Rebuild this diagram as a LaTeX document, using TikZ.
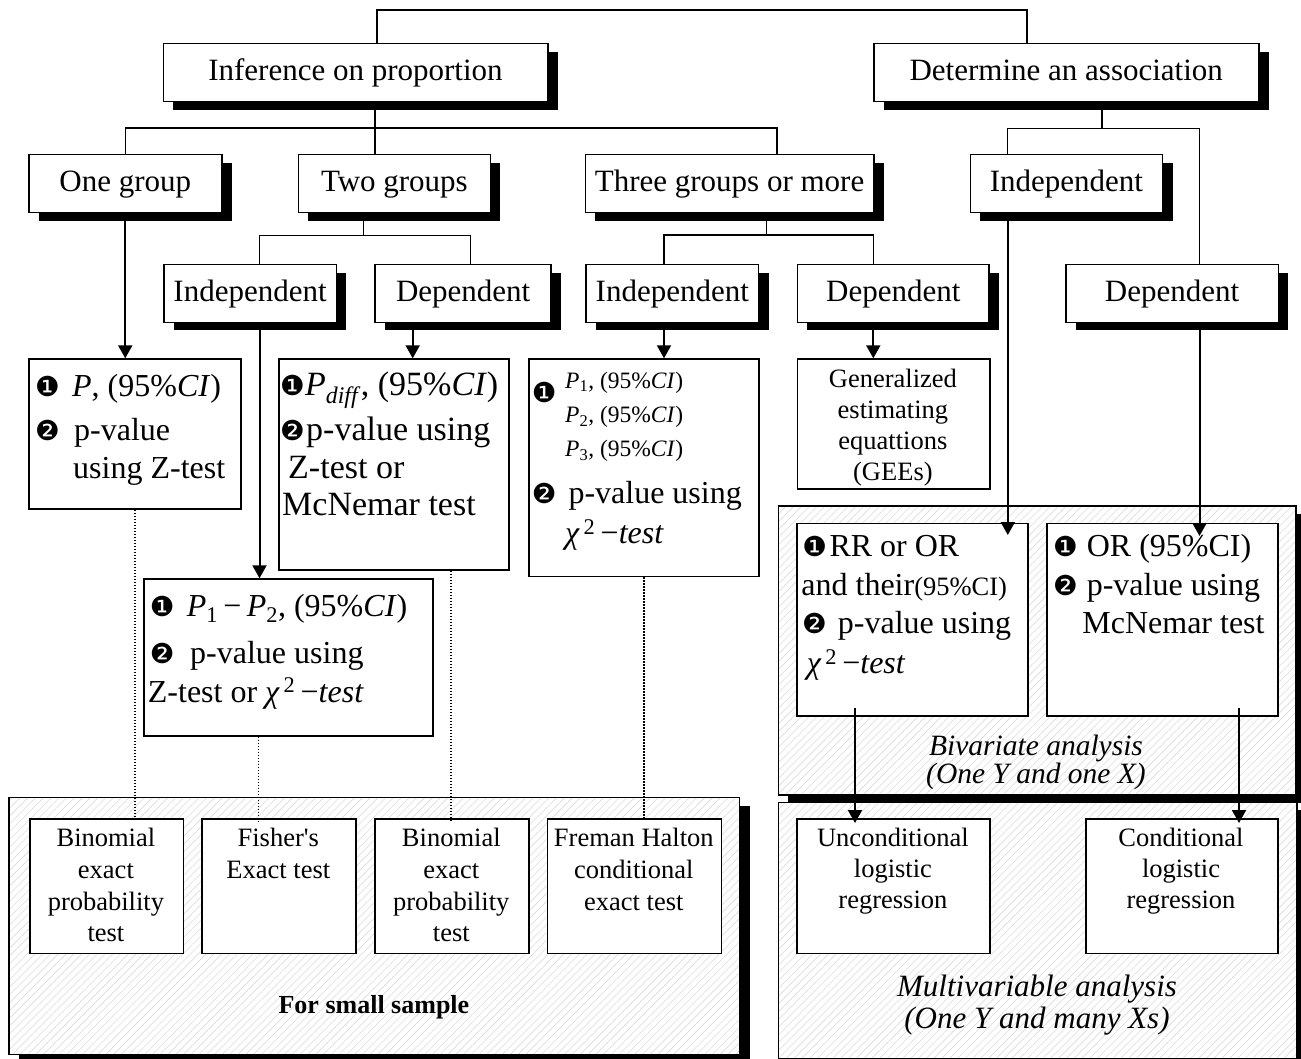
\documentclass[tikz,border=0pt]{standalone}
\usepackage{fontspec}
\setmainfont{Liberation Serif}
\newfontfamily\dingfont{DejaVu Sans}
\newfontfamily\plainfont{Liberation Serif}[Ligatures=TeXOff]
\usetikzlibrary{shadows,patterns.meta,arrows.meta}

% circled bullets and recurring formula pieces
\newcommand\dingone{{\dingfont\fontsize{27.5}{28}\selectfont ❶}}
\newcommand\dingtwo{{\dingfont\fontsize{27.5}{28}\selectfont ❷}}
\newcommand\ci{(95\%\textit{CI})}
\newcommand\chisq{\textit{χ}\textsuperscript{\,2}\,−\textit{test}}

% box from its top-left (#2,#3) to bottom-right (#4,#5) corner
\newcommand\bx[7]{\node[#6, anchor=north west, minimum width={#4-#2}, minimum height={#5-#3}] (#1) at (#2,#3) {#7};}

\tikzset{
  shadowed/.style={drop shadow={shadow xshift=10pt,shadow yshift=-8pt,opacity=1,fill=black}},
  hdr/.style={draw, line width=1.5pt, fill=white, inner sep=0pt, shadowed,
              text height=22pt, text depth=7pt, font=\fontsize{31}{36}\selectfont},
  cbox/.style={draw, line width=1.5pt, fill=white, inner sep=0pt},
  panel/.style={draw, line width=1.5pt, inner sep=0pt, shadowed, preaction={fill=white},
                pattern={Lines[angle=45,distance=5.5pt,line width=.6pt]}, pattern color=black!14},
  lt/.style={inner sep=0pt, anchor=base west, font=\fontsize{32}{38}\selectfont},
  bt/.style={inner sep=0pt, anchor=base west, font=\fontsize{34}{40}\selectfont},
  tt/.style={inner sep=0pt, anchor=base west, font=\fontsize{23.5}{26}\selectfont},
  bul/.style={inner sep=0pt, anchor=base west},
  st/.style={inner sep=0pt, anchor=base, font=\fontsize{26.5}{31}\selectfont},
  it/.style={inner sep=0pt, anchor=base, font=\fontsize{31}{36}\selectfont\itshape},
  tree/.style={line width=1.2pt},
  arr/.style={line width=2pt, -{Triangle[width=14pt,length=13pt]}},
  dots/.style={line width=1.5pt, dash pattern=on 1.5pt off 1.5pt},
}

\begin{document}
\begin{tikzpicture}[x=1pt,y=-1pt]
\useasboundingbox (0,0) rectangle (1301,1059);
\fill[white] (0,0) rectangle (1301,1059);

% hatched panels
\bx{small}{8.7}{797.3}{739.2}{1054}{panel}{}
\bx{biv}{777.5}{505}{1295}{794}{panel}{}
\bx{multi}{777.5}{801.7}{1296}{1058}{panel}{}

% category boxes
\bx{inf}{162.5}{43}{547}{101}{hdr}{Inference on proportion}
\bx{det}{873}{43}{1258}{101}{hdr}{Determine an association}
\bx{one}{28}{154}{221}{212}{hdr}{One group}
\bx{two}{297.7}{154}{489.6}{212}{hdr}{Two groups}
\bx{three}{584.6}{154}{873}{212}{hdr}{Three groups or more}
\bx{indR}{969.6}{154}{1161.8}{212}{hdr}{Independent}
\bx{indL}{163}{264}{335.7}{321.7}{hdr}{Independent}
\bx{depL}{374.4}{264}{550.4}{321.7}{hdr}{Dependent}
\bx{indM}{585.3}{264}{757.8}{321.7}{hdr}{Independent}
\bx{depM}{796.7}{264}{988.3}{321.7}{hdr}{Dependent}
\bx{depR}{1065}{264}{1277.7}{321.7}{hdr}{Dependent}

% result boxes
\bx{pbox}{28.3}{358.3}{240}{508.3}{cbox}{}
\bx{pdiff}{278.3}{358.3}{508.3}{569.3}{cbox}{}
\bx{pdd}{143.3}{578.3}{432.3}{735}{cbox}{}
\bx{chi}{528.3}{358.3}{758.3}{575.7}{cbox}{}
\bx{gee}{796.7}{358.3}{989}{488.3}{cbox}{}
\bx{rr}{796.4}{522.7}{1027.4}{715}{cbox}{}
\bx{orb}{1046}{522.7}{1277}{715}{cbox}{}
\bx{unc}{796.4}{818.3}{989.4}{952.7}{cbox}{}
\bx{cond}{1085}{818.3}{1277}{952.7}{cbox}{}
\bx{bA}{29}{818.3}{182.7}{952.7}{cbox}{}
\bx{bB}{201.2}{818.3}{355.3}{952.7}{cbox}{}
\bx{bC}{374.2}{818.3}{528.4}{952.7}{cbox}{}
\bx{bD}{546.8}{818.3}{720.8}{952.7}{cbox}{}

% one group
\node[bul] (pboxA) at (35,396.7) {\dingone};
\node[lt] (pbox1) at (72,396.7) {\textit{P}, \ci};
\node[bul] (pboxB) at (35,440) {\dingtwo};
\node[lt] (pbox2) at (74,440) {p-value};
\node[lt] (pbox3) at (73,478) {using Z-test};

% two groups, dependent
\node[bul] (pdiffA) at (280,395) {\dingone};
\node[bt] (pdiff1) at (305,395) {\textit{P}\textsubscript{\textit{diff}}, \ci};
\node[bul] (pdiffB) at (280,440) {\dingtwo};
\node[bt] (pdiff2) at (306,440) {p-value using};
\node[bt] (pdiff3) at (288,478) {Z-test or};
\node[bt] (pdiff4) at (282,515) {McNemar test};

% two groups, independent
\node[bul] (pddA) at (149.7,616) {\dingone};
\node[lt] (pdd1) at (186.7,616) {\textit{P}\textsubscript{1}\,−\,\textit{P}\textsubscript{2}, \ci};
\node[bul] (pddB) at (149.7,663) {\dingtwo};
\node[lt] (pdd2) at (190,663) {p-value using};
\node[lt] (pdd3) at (147.7,702) {Z-test or \chisq};

% three groups, independent
\node[bul] (chiA) at (531.7,402) {\dingone};
\node[tt] (chi1) at (565,388) {\textit{P}\textsubscript{1}, \ci};
\node[tt] (chi2) at (565,422.7) {\textit{P}\textsubscript{2}, \ci};
\node[tt] (chi3) at (565,456.7) {\textit{P}\textsubscript{3}, \ci};
\node[bul] (chiB) at (531.7,503) {\dingtwo};
\node[lt] (chi4) at (568.3,503) {p-value using};
\node[lt] (chi5) at (565,543.3) {\chisq};

% three groups, dependent
\node[st] (gee1) at (892.9,387) {Generalized};
\node[st] (gee2) at (892.9,418) {estimating};
\node[st] (gee3) at (892.9,449) {equattions};
\node[st] (gee4) at (892.9,480) {(GEEs)};

% association, bivariate
\node[bul] (rrA) at (802.2,556.7) {\dingone};
\node[lt] (rr1) at (829.3,556.7) {RR or OR};
\node[lt] (rr2) at (801.2,595) {and their{\fontsize{26.5}{30}\selectfont(95\%CI)}};
\node[bul] (rrB) at (802,633.3) {\dingtwo};
\node[lt] (rr3) at (837.7,633.3) {p-value using};
\node[lt] (rr4) at (806.6,673.3) {\chisq};

\node[bul] (orA) at (1052.8,556.7) {\dingone};
\node[lt] (or1) at (1086.6,556.7) {OR (95\%CI)};
\node[bul] (orB) at (1052.8,595) {\dingtwo};
\node[lt] (or2) at (1086.6,595) {p-value using};
\node[lt] (or3) at (1082.2,633.3) {McNemar test};

\node[it, font=\fontsize{29.5}{34}\selectfont\itshape] (biv1) at (1036,755) {Bivariate analysis};
\node[it, font=\fontsize{29.5}{34}\selectfont\itshape] (biv2) at (1036,783.3) {(One Y and one X)};

% association, multivariable
\node[st] (unc1) at (892.9,846.7) {Unconditional};
\node[st] (unc2) at (892.9,877.5) {logistic};
\node[st] (unc3) at (892.9,908.3) {regression};
\node[st] (cond1) at (1181,846.7) {Conditional};
\node[st] (cond2) at (1181,877.5) {logistic};
\node[st] (cond3) at (1181,908.3) {regression};
\node[it] (multi1) at (1037,996.7) {Multivariable analysis};
\node[it] (multi2) at (1037,1028.3) {(One Y and many Xs)};

% exact tests
\node[st] (bA1) at (105.9,846.7) {Binomial};
\node[st] (bA2) at (105.9,878.3) {exact};
\node[st] (bA3) at (105.9,910) {probability};
\node[st] (bA4) at (105.9,941.7) {test};
\node[st] (bB1) at (278.3,846.7) {Fisher{\plainfont'}s};
\node[st] (bB2) at (278.3,878.3) {Exact test};
\node[st] (bC1) at (451.3,846.7) {Binomial};
\node[st] (bC2) at (451.3,878.3) {exact};
\node[st] (bC3) at (451.3,910) {probability};
\node[st] (bC4) at (451.3,941.7) {test};
\node[st] (bD1) at (633.8,846.7) {Freman Halton};
\node[st] (bD2) at (633.8,878.3) {conditional};
\node[st] (bD3) at (633.8,910) {exact test};
\node[st, font=\fontsize{26}{30}\selectfont\bfseries] (smallT) at (373.9,1013) {For small sample};

% tree junctions
\coordinate (rootL) at (377,10);
\coordinate (rootR) at (1027,10);
\coordinate (jI) at (375,128);
\coordinate (jT) at (777,128);
\coordinate (jD) at (1102,128.5);
\coordinate (jDL) at (1007.8,128.5);
\coordinate (jDR) at (1199.5,128.5);
\coordinate (jW) at (363.5,235.7);
\coordinate (jWL) at (259.5,235.7);
\coordinate (jWR) at (470.4,235.7);
\coordinate (jH) at (766.5,235);
\coordinate (jHL) at (664,235);
\coordinate (jHR) at (873.3,235);
\coordinate (aDL) at (412.7,340);
\coordinate (rrIn) at (1007.8,535);
\coordinate (orIn) at (1199.5,536);
\coordinate (rrOut) at (855,708);
\coordinate (orOut) at (1239,708);
\coordinate (uncIn) at (855,823);
\coordinate (condIn) at (1239,823);
\coordinate (dB) at (258.4,822);
\coordinate (dC) at (451,822);

% tree lines
\draw[tree] (inf.north -| rootL) -- (rootL) -- (rootR) -- (det.north -| rootR);
\draw[tree] (inf.south -| jI) -- (two.north -| jI);
\draw[tree] (one.north) |- (jT) -- (three.north -| jT);
\draw[tree] (det.south -| jD) -- (jD);
\draw[tree] (indR.north -| jDL) -- (jDL) -- (jDR) -- (depR.north -| jDR);
\draw[tree] (two.south -| jW) -- (jW);
\draw[tree] (indL.north -| jWL) -- (jWL) -- (jWR) -- (depL.north -| jWR);
\draw[tree] (three.south -| jH) -- (jH);
\draw[tree] (indM.north -| jHL) -- (jHL) -- (jHR) -- (depM.north -| jHR);

% arrows
\draw[arr] (one.south) -- (pbox.north -| one.south);
\draw[arr] (indL.south -| jWL) -- (pdd.north -| jWL);
\draw[arr] (depL.south -| aDL) -- (pdiff.north -| aDL);
\draw[arr] (indM.south -| jHL) -- (chi.north -| jHL);
\draw[arr] (depM.south -| jHR) -- (gee.north -| jHR);
\draw[arr] (indR.south -| jDL) -- (rrIn);
\draw[arr] (depR.south -| jDR) -- (orIn);
\draw[arr] (rrOut) -- (uncIn);
\draw[arr] (orOut) -- (condIn);

% dotted links to the exact tests
\draw[dots] (pbox.south) -- (pbox.south |- bA.north);
\draw[dots] (pdd.south -| dB) -- (dB);
\draw[dots] (pdiff.south -| dC) -- (dC);
\draw[dots] (chi.south) -- (chi.south |- bD.north);
\end{tikzpicture}
\end{document}
